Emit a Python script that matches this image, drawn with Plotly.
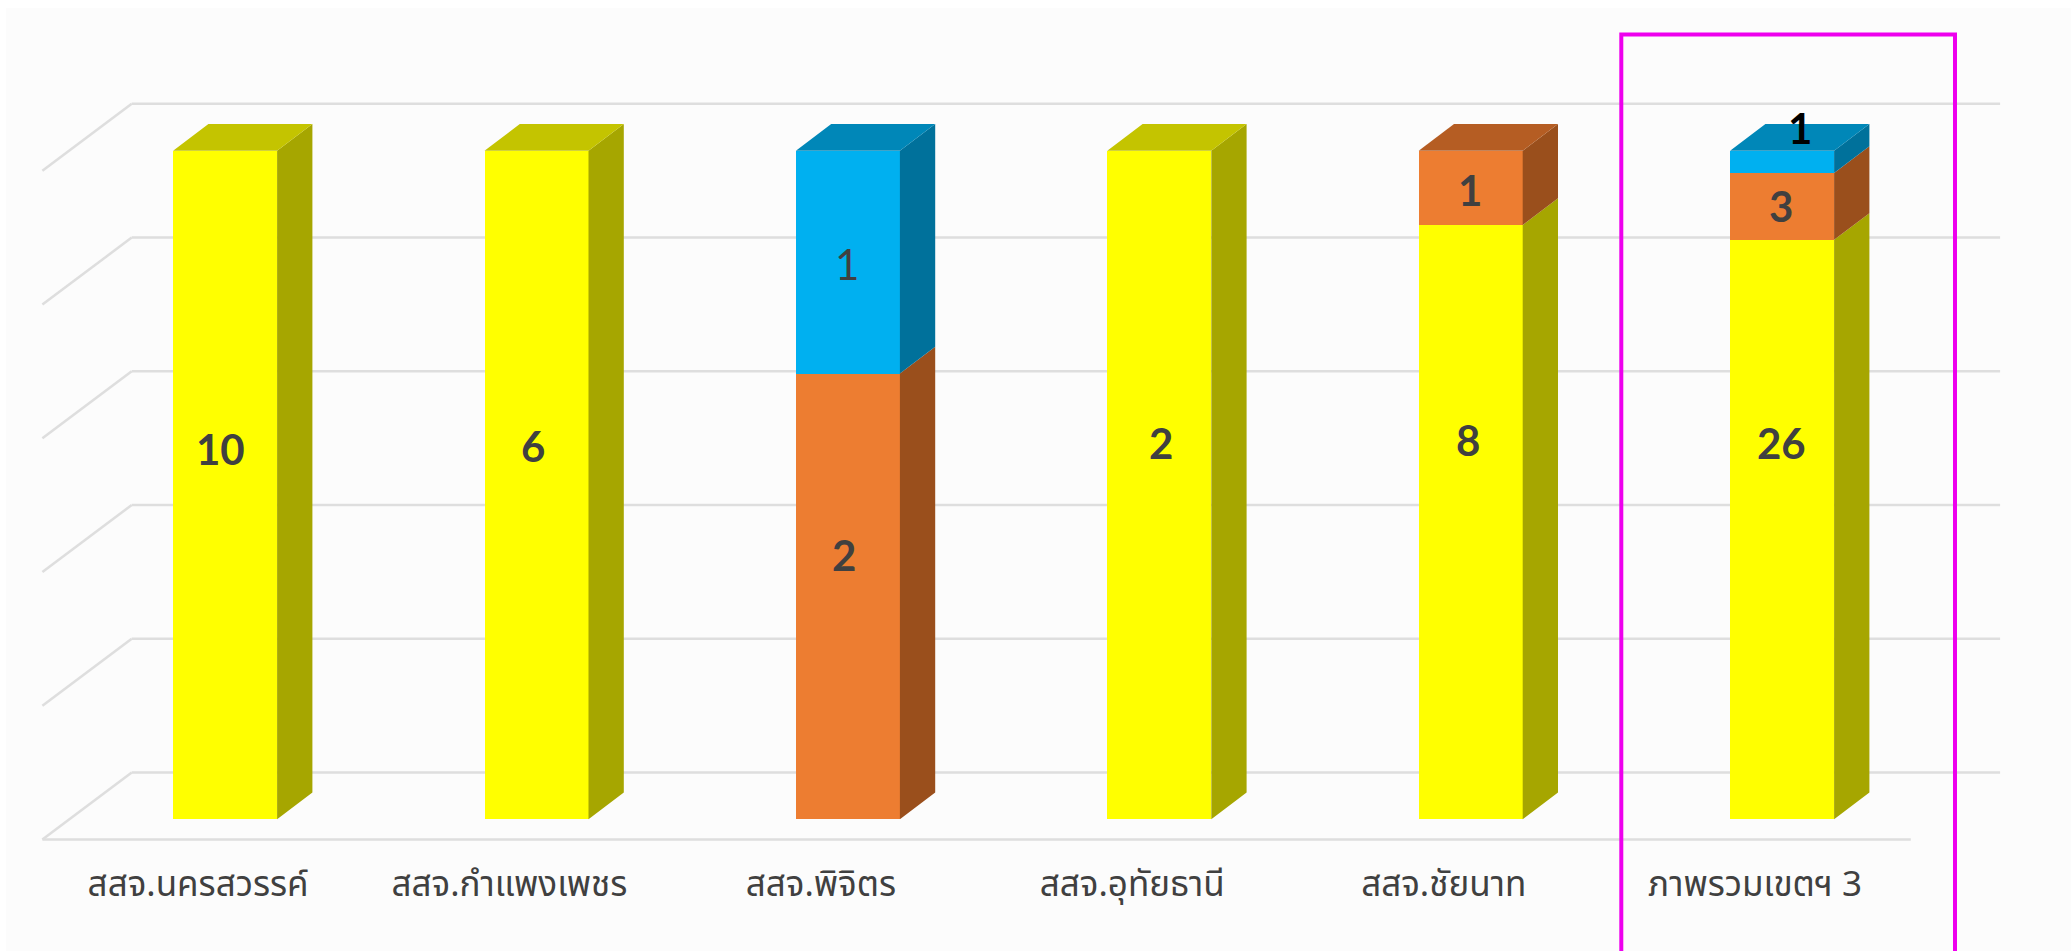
import plotly.graph_objects as go

# ---- data ----
categories = ["สสจ.นครสวรรค์", "สสจ.กำแพงเพชร", "สสจ.พิจิตร", "สสจ.อุทัยธานี", "สสจ.ชัยนาท", "ภาพรวมเขตฯ 3"]
series_names = ["ระดับ 1", "ระดับ 2", "ระดับ 3"]
yellow_values = [10, 6, 0, 2, 8, 26]
orange_values = [0, 0, 2, 0, 1, 3]
blue_values = [0, 0, 1, 0, 0, 1]
grid_levels = [0, 20, 40, 60, 80, 100]

# ---- style ----
front_colors = ["#FFFF00", "#ED7D31", "#00B0F0"]
side_colors = ["#A6A600", "#9A4F1C", "#00719B"]
top_colors = ["#C4C400", "#B55D23", "#0087B8"]
GRID = "#DEDEDE"
FIG_W, FIG_H = 2071, 951
L, T = 6, 8
FLOOR_LEFT_PX, SLOT_PX = 42.4, 311.4
ZERO_PX, FULL_PX = 819.3, 150.7
PX_PER_PCT = (ZERO_PX - FULL_PX) / 100
px_x = lambda p: (p - FLOOR_LEFT_PX) / SLOT_PX - 0.5
px_y = lambda p: (ZERO_PX - p) / PX_PER_PCT

BAR_W = 104 / SLOT_PX
WALL_DX, WALL_DY = 89.3 / SLOT_PX, 67 / PX_PER_PCT       # floor depth
BAR_DX, BAR_DY = 35.3 / SLOT_PX, 26.7 / PX_PER_PCT       # bar depth
GAP_DX, GAP_DY = (WALL_DX - BAR_DX) / 2, (WALL_DY - BAR_DY) / 2
n = len(categories)
series = [yellow_values, orange_values, blue_values]
totals = [sum(s[i] for s in series) for i in range(n)]
x_front = [i + GAP_DX - BAR_W / 2 for i in range(n)]
x_center = [i + GAP_DX for i in range(n)]

fig = go.Figure()
# front faces: stacked, normalised by the library
for name, vals, col in zip(series_names, series, front_colors):
    fig.add_trace(go.Bar(x=x_center, y=vals, name=name, width=BAR_W,
                         marker=dict(color=col, line=dict(width=0)), hoverinfo="skip"))

# right-hand sides and tops
for k, (name, vals) in enumerate(zip(series_names, series)):
    sx, sy, tx, ty = [], [], [], []
    for i in range(n):
        if vals[i] == 0:
            continue
        b = 100 * sum(series[j][i] for j in range(k)) / totals[i]
        t = b + 100 * vals[i] / totals[i]
        r = x_front[i] + BAR_W
        sx += [r, r + BAR_DX, r + BAR_DX, r, r, None]
        sy += [b, b + BAR_DY, t + BAR_DY, t, b, None]
        if t > 99.999:
            l = x_front[i]
            tx += [l, r, r + BAR_DX, l + BAR_DX, l, None]
            ty += [t, t, t + BAR_DY, t + BAR_DY, t, None]
    fig.add_trace(go.Scatter(x=sx, y=sy, mode="lines", fill="toself", fillcolor=side_colors[k],
                             line=dict(width=0), hoverinfo="skip", showlegend=False))
    fig.add_trace(go.Scatter(x=tx, y=ty, mode="lines", fill="toself", fillcolor=top_colors[k],
                             line=dict(width=0), hoverinfo="skip", showlegend=False))

# 3D box: back wall gridlines, side wall diagonals, floor front edge
shapes = []
x0_floor = -0.5
x_back_l = x0_floor + WALL_DX
x_back_r = n - 0.5 + WALL_DX
for g in grid_levels:
    yb = g - GAP_DY + WALL_DY
    yf = g - GAP_DY
    shapes.append(dict(type="line", xref="x", yref="y", layer="below", x0=x_back_l, x1=x_back_r, y0=yb, y1=yb,
                       line=dict(color=GRID, width=2.5)))
    shapes.append(dict(type="line", xref="x", yref="y", layer="below", x0=x0_floor, x1=x_back_l, y0=yf, y1=yb,
                       line=dict(color=GRID, width=2.5)))
shapes.append(dict(type="line", xref="x", yref="y", layer="below", x0=x0_floor, x1=n - 0.5,
                   y0=-GAP_DY, y1=-GAP_DY, line=dict(color=GRID, width=2.5)))
# highlight frame round the last category
shapes.append(dict(type="rect", xref="x", yref="y", layer="above",
                   x0=px_x(1621.3), x1=px_x(1955), y0=px_y(34.5), y1=px_y(1000),
                   line=dict(color="#EE00EE", width=4), fillcolor="rgba(0,0,0,0)"))

# value labels with the nudges seen in the picture (pixels)
shifts = {(0, 0): (-4.6, 36), (0, 1): (-3.4, 39), (0, 3): (1.2, 42.5), (0, 4): (-3, 82), (0, 5): (-0.7, 87),
          (1, 2): (-3.6, 41.5), (1, 4): (-1, -2), (1, 5): (-0.7, 0), (2, 2): (-1, -2), (2, 5): (18, 34)}
annotations = []
for k, vals in enumerate(series):
    for i, v in enumerate(vals):
        if v == 0:
            continue
        b = 100 * sum(series[j][i] for j in range(k)) / totals[i]
        m = b + 50 * v / totals[i]
        xs, ys = shifts[(k, i)]
        black = (k, i) == (2, 5)
        thin = (k, i) == (2, 2)
        annotations.append(dict(x=x_center[i], y=m, xref="x", yref="y", text=str(v), showarrow=False,
                                xshift=xs, yshift=ys, xanchor="center", yanchor="middle",
                                font=dict(family="Lato", size=42, weight=400 if thin else 700,
                                          color="#000000" if black else "#404040")))

fig.update_layout(
    width=FIG_W, height=FIG_H, barmode="stack", barnorm="percent", showlegend=False,
    paper_bgcolor="#FFFFFF", plot_bgcolor="#FCFCFC",
    margin=dict(l=L, t=T, r=0, b=0, pad=0),
    shapes=shapes, annotations=annotations,
    xaxis=dict(range=[px_x(L), px_x(FIG_W)], tickmode="array", tickvals=list(range(n)), ticktext=categories,
               showgrid=False, zeroline=False, showline=False, ticks="",
               tickfont=dict(family="Noto Sans, Noto Sans Thai, Loma, sans-serif", size=35, color="#404040")),
    yaxis=dict(range=[px_y(FIG_H), px_y(T)], showgrid=False, zeroline=False, showline=False,
               showticklabels=False, ticks=""),
)
# tick labels sit inside the plot at the y seen in the picture
fig.update_xaxes(ticklabelposition="inside", anchor="free", position=0.048)

fig.write_html("out.html", config=dict(displayModeBar=False), post_script="document.body.style.margin='0';")
